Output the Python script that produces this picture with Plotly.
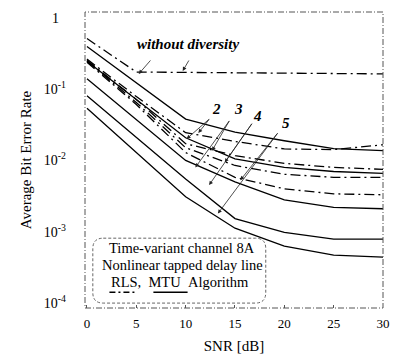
import plotly.graph_objects as go

snr = [0, 5, 10, 15, 20, 25, 30]

mtu_none = [0.398, 0.123, 0.038, 0.025, 0.0189, 0.0147, 0.0137]
mtu_2 = [0.247, 0.0716, 0.0208, 0.0105, 0.0080, 0.0070, 0.0066]
mtu_3 = [0.140, 0.038, 0.0100, 0.0050, 0.0028, 0.0022, 0.0021]
mtu_4 = [0.081, 0.0208, 0.0055, 0.00153, 0.00098, 0.00079, 0.00079]
mtu_5 = [0.054, 0.0129, 0.0031, 0.00112, 0.00063, 0.00047, 0.00044]

rls_none = [0.513, 0.174, 0.172, 0.170, 0.168, 0.166, 0.164]
rls_2 = [0.264, 0.0788, 0.0245, 0.0185, 0.0145, 0.0142, 0.0166]
rls_3 = [0.255, 0.0716, 0.0172, 0.0117, 0.0091, 0.0080, 0.0075]
rls_4 = [0.247, 0.0651, 0.0151, 0.0085, 0.0064, 0.0058, 0.0058]
rls_5 = [0.239, 0.0611, 0.0129, 0.0058, 0.0040, 0.0034, 0.0033]

ytick_vals = [1, 0.1, 0.01, 0.001, 0.0001]
ytick_text = ["1&nbsp;&nbsp;", "10<sup>-1</sup>", "10<sup>-2</sup>", "10<sup>-3</sup>", "10<sup>-4</sup>"]
xtick_vals = [0, 5, 10, 15, 20, 25, 30]

W, H = 399, 361
L, R, T, B = 85, 390, 12, 313
FONT = "Liberation Serif"
DASHDOT = "10px,4px,2px,4px"


def px(x):
    return (x - L) / (R - L)


def py(y):
    return (B - y) / (B - T)


fig = go.Figure()
for ys in [mtu_none, mtu_2, mtu_3, mtu_4, mtu_5]:
    fig.add_trace(go.Scatter(x=snr, y=ys, mode="lines",
                             line=dict(color="black", width=1.3), showlegend=False))
for ys in [rls_none, rls_2, rls_3, rls_4, rls_5]:
    fig.add_trace(go.Scatter(x=snr, y=ys, mode="lines",
                             line=dict(color="black", width=1.3, dash=DASHDOT), showlegend=False))

shapes = []
shapes.append(dict(type="rect", xref="paper", yref="paper", x0=0, y0=0, x1=1, y1=1,
                   line=dict(color="#555", width=1, dash="6px,2px,1px,2px")))
bx0, by0, bx1, by1, r = px(93), py(242), px(270), py(308), 0.035
rx = r
ry = r * (R - L) / (B - T)
path = (f"M {bx0+rx},{by0} L {bx1-rx},{by0} Q {bx1},{by0} {bx1},{by0-ry} "
        f"L {bx1},{by1+ry} Q {bx1},{by1} {bx1-rx},{by1} L {bx0+rx},{by1} "
        f"Q {bx0},{by1} {bx0},{by1+ry} L {bx0},{by0-ry} Q {bx0},{by0} {bx0+rx},{by0} Z")
shapes.append(dict(type="path", xref="paper", yref="paper", path=path,
                   line=dict(color="#666", width=1, dash="3px,2px")))
shapes.append(dict(type="line", xref="paper", yref="paper", x0=px(110), x1=px(138),
                   y0=py(297), y1=py(297), line=dict(color="black", width=1.3, dash="6px,3px,2px,3px")))
shapes.append(dict(type="line", xref="paper", yref="paper", x0=px(155), x1=px(190),
                   y0=py(297), y1=py(297), line=dict(color="black", width=1.5)))

annotations = []


def txt(x, y, s, size=13, bold=False, italic=False):
    if bold:
        s = f"<b>{s}</b>"
    if italic:
        s = f"<i>{s}</i>"
    annotations.append(dict(x=px(x), y=py(y), xref="paper", yref="paper", text=s,
                            xanchor="center", yanchor="middle",
                            showarrow=False, font=dict(family=FONT, size=size, color="black")))


def arrow(x0, y0, x1, y1):
    annotations.append(dict(x=px(x1), y=py(y1), xref="paper", yref="paper",
                            ax=x0 - x1, ay=y0 - y1, axref="pixel", ayref="pixel",
                            text="", showarrow=True, arrowhead=2, arrowsize=1.0,
                            arrowwidth=0.8, arrowcolor="#222"))


txt(190, 45, "without diversity", size=15, bold=True, italic=True)
arrow(153, 60, 140, 75)
arrow(192, 60, 185, 72)

txt(220, 111, "2", size=15, bold=True, italic=True)
txt(242, 111, "3", size=15, bold=True, italic=True)
txt(262, 118, "4", size=15, bold=True, italic=True)
txt(291, 125, "5", size=15, bold=True, italic=True)
arrow(213, 120, 189, 141)
arrow(213, 120, 201, 135)
arrow(233, 122, 215, 153)
arrow(233, 122, 198, 170)
arrow(256, 125, 228, 165)
arrow(256, 125, 212, 188)
arrow(282, 135, 244, 183)
arrow(282, 135, 221, 217)

txt(184, 252, "Time-variant channel 8A", size=14.5)
txt(185, 269, "Nonlinear tapped delay line", size=14.5)
txt(182, 287, "RLS,&nbsp;&nbsp;MTU&nbsp;&nbsp;Algorithm", size=14.5)

fig.update_layout(
    width=W, height=H,
    margin=dict(l=L, r=W - R, t=T, b=H - B),
    paper_bgcolor="white", plot_bgcolor="white",
    font=dict(family=FONT, size=13, color="black"),
    shapes=shapes, annotations=annotations,
    xaxis=dict(range=[-0.2, 30.0], tickvals=xtick_vals, ticks="inside", ticklen=3,
               tickcolor="#555", showgrid=False, zeroline=False, showline=False,
               tickfont=dict(family=FONT, size=13), ticklabelstandoff=6,
               title=dict(text="SNR [dB]", font=dict(family=FONT, size=15), standoff=10)),
    yaxis=dict(type="log", range=[-4.07, 0.083], tickvals=ytick_vals, ticktext=ytick_text,
               ticks="", showgrid=False, zeroline=False, showline=False,
               tickfont=dict(family=FONT, size=14), ticklabelstandoff=18,
               title=dict(text="Average Bit Error Rate", font=dict(family=FONT, size=15), standoff=8)),
)

fig.write_html("out.html")
